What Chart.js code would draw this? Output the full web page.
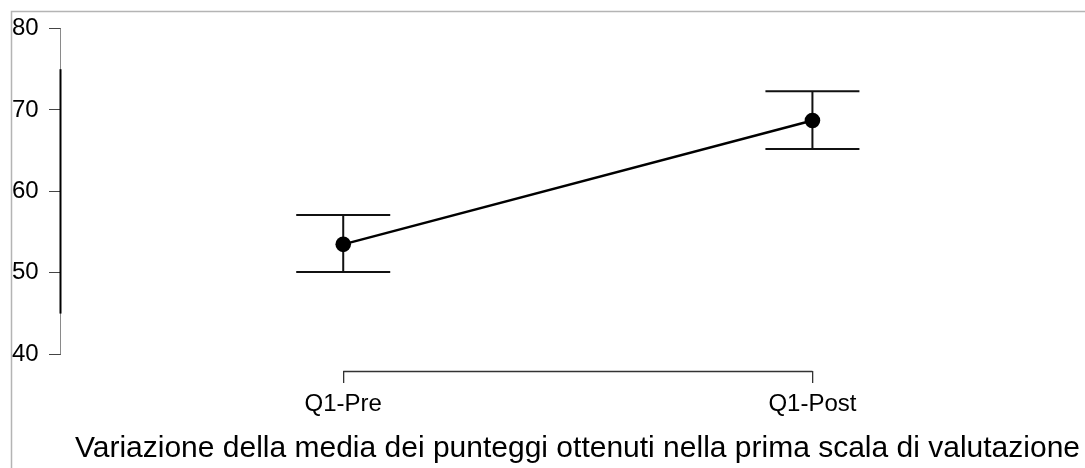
<!DOCTYPE html>
<html>
<head>
<meta charset="utf-8">
<script src="https://cdn.jsdelivr.net/npm/chart.js@4.4.1/dist/chart.umd.min.js"></script>
<style>
  html, body { margin: 0; padding: 0; background: #fff; }
  canvas { display: block; }
</style>
</head>
<body>
<canvas id="c" width="1085" height="468"></canvas>
<script>
// Mean score with confidence interval, before and after
const categories = ['Q1-Pre', 'Q1-Post'];
const means = [53.5, 68.7];
const lowerCI = [50.1, 65.2];
const upperCI = [57.1, 72.3];
const yTicks = [40, 50, 60, 70, 80];
const yAxisSpan = [45, 75];
const titleText = 'Variazione della media dei punteggi ottenuti nella prima scala di valutazione';

const FONT = "'Liberation Sans', Arial, sans-serif";
Chart.defaults.font.family = FONT;
Chart.defaults.color = '#000';

// Error bars, axis lines and outer frame
const decorations = {
  id: 'decorations',
  beforeDraw(chart) {
    const ctx = chart.ctx;
    ctx.save();
    ctx.fillStyle = '#fff';
    ctx.fillRect(0, 0, chart.width, chart.height);
    ctx.strokeStyle = '#b4b4b4';
    ctx.lineWidth = 1.5;
    ctx.beginPath();
    ctx.moveTo(11.5, chart.height + 5);
    ctx.lineTo(11.5, 11.5);
    ctx.lineTo(chart.width + 5, 11.5);
    ctx.stroke();
    ctx.restore();
  },
  beforeDatasetsDraw(chart) {
    const ctx = chart.ctx;
    const xs = chart.scales.x, ys = chart.scales.y;
    const cap = 47;
    ctx.save();
    ctx.strokeStyle = '#111';
    ctx.lineWidth = 2;
    means.forEach((m, i) => {
      const px = xs.getPixelForValue(i);
      const top = ys.getPixelForValue(upperCI[i]);
      const bot = ys.getPixelForValue(lowerCI[i]);
      ctx.beginPath();
      ctx.moveTo(px, top); ctx.lineTo(px, bot);
      ctx.moveTo(px - cap, top); ctx.lineTo(px + cap, top);
      ctx.moveTo(px - cap, bot); ctx.lineTo(px + cap, bot);
      ctx.stroke();
    });
    ctx.restore();
  },
  afterDraw(chart) {
    const ctx = chart.ctx;
    const xs = chart.scales.x, ys = chart.scales.y;
    const area = chart.chartArea;
    ctx.save();
    // y axis line
    const ax = area.left - 0.5;
    ctx.strokeStyle = '#8a8a8a';
    ctx.lineWidth = 1;
    ctx.beginPath();
    ctx.moveTo(ax, ys.getPixelForValue(yTicks[0]));
    ctx.lineTo(ax, ys.getPixelForValue(yTicks[yTicks.length - 1]));
    ctx.stroke();
    ctx.strokeStyle = '#000';
    ctx.lineWidth = 2;
    ctx.beginPath();
    ctx.moveTo(ax, ys.getPixelForValue(yAxisSpan[0]));
    ctx.lineTo(ax, ys.getPixelForValue(yAxisSpan[1]));
    ctx.stroke();
    // x axis bracket
    ctx.strokeStyle = '#333';
    ctx.lineWidth = 1.3;
    ctx.beginPath();
    ctx.moveTo(xs.getPixelForValue(0), area.bottom + 0.5);
    ctx.lineTo(xs.getPixelForValue(categories.length - 1), area.bottom + 0.5);
    ctx.stroke();
    ctx.restore();
  }
};

new Chart(document.getElementById('c'), {
  type: 'line',
  data: {
    datasets: [{
      data: means.map((m, i) => ({ x: i, y: m })),
      borderColor: '#000',
      borderWidth: 2.5,
      pointRadius: 7.8,
      pointBackgroundColor: '#000',
      pointBorderColor: '#000',
      pointBorderWidth: 0,
      fill: false,
      tension: 0
    }]
  },
  options: {
    responsive: false,
    animation: false,
    events: [],
    layout: { padding: { left: 12, top: 20, right: 5, bottom: 0 } },
    plugins: {
      legend: { display: false },
      tooltip: { enabled: false },
      title: {
        display: true,
        position: 'bottom',
        align: 'end',
        text: titleText,
        color: '#000',
        font: { family: FONT, size: 30, weight: 'normal', lineHeight: 1.2 },
        padding: { top: 0, bottom: 1.5 }
      }
    },
    scales: {
      x: {
        type: 'linear',
        min: -0.6015,
        max: 1.5643,
        afterBuildTicks(scale) { scale.ticks = categories.map((c, i) => ({ value: i })); },
        afterFit(scale) { scale.height = 59.5; },
        ticks: {
          callback: (v) => categories[v],
          color: '#000',
          font: { family: FONT, size: 24 },
          padding: 7,
          maxRotation: 0
        },
        grid: { drawOnChartArea: false, drawTicks: true, tickLength: 12, color: '#333', lineWidth: 1.3 },
        border: { display: false }
      },
      y: {
        type: 'linear',
        min: 37.95,
        max: 81.04,
        afterBuildTicks(scale) { scale.ticks = yTicks.map(v => ({ value: v })); },
        afterFit(scale) { scale.width = 49; },
        ticks: {
          crossAlign: 'far',
          color: '#000',
          font: { family: FONT, size: 24 },
          padding: 0
        },
        grid: { drawOnChartArea: false, drawTicks: true, tickLength: 12, color: '#444', lineWidth: 1 },
        border: { display: false }
      }
    }
  },
  plugins: [decorations]
});
</script>
</body>
</html>
